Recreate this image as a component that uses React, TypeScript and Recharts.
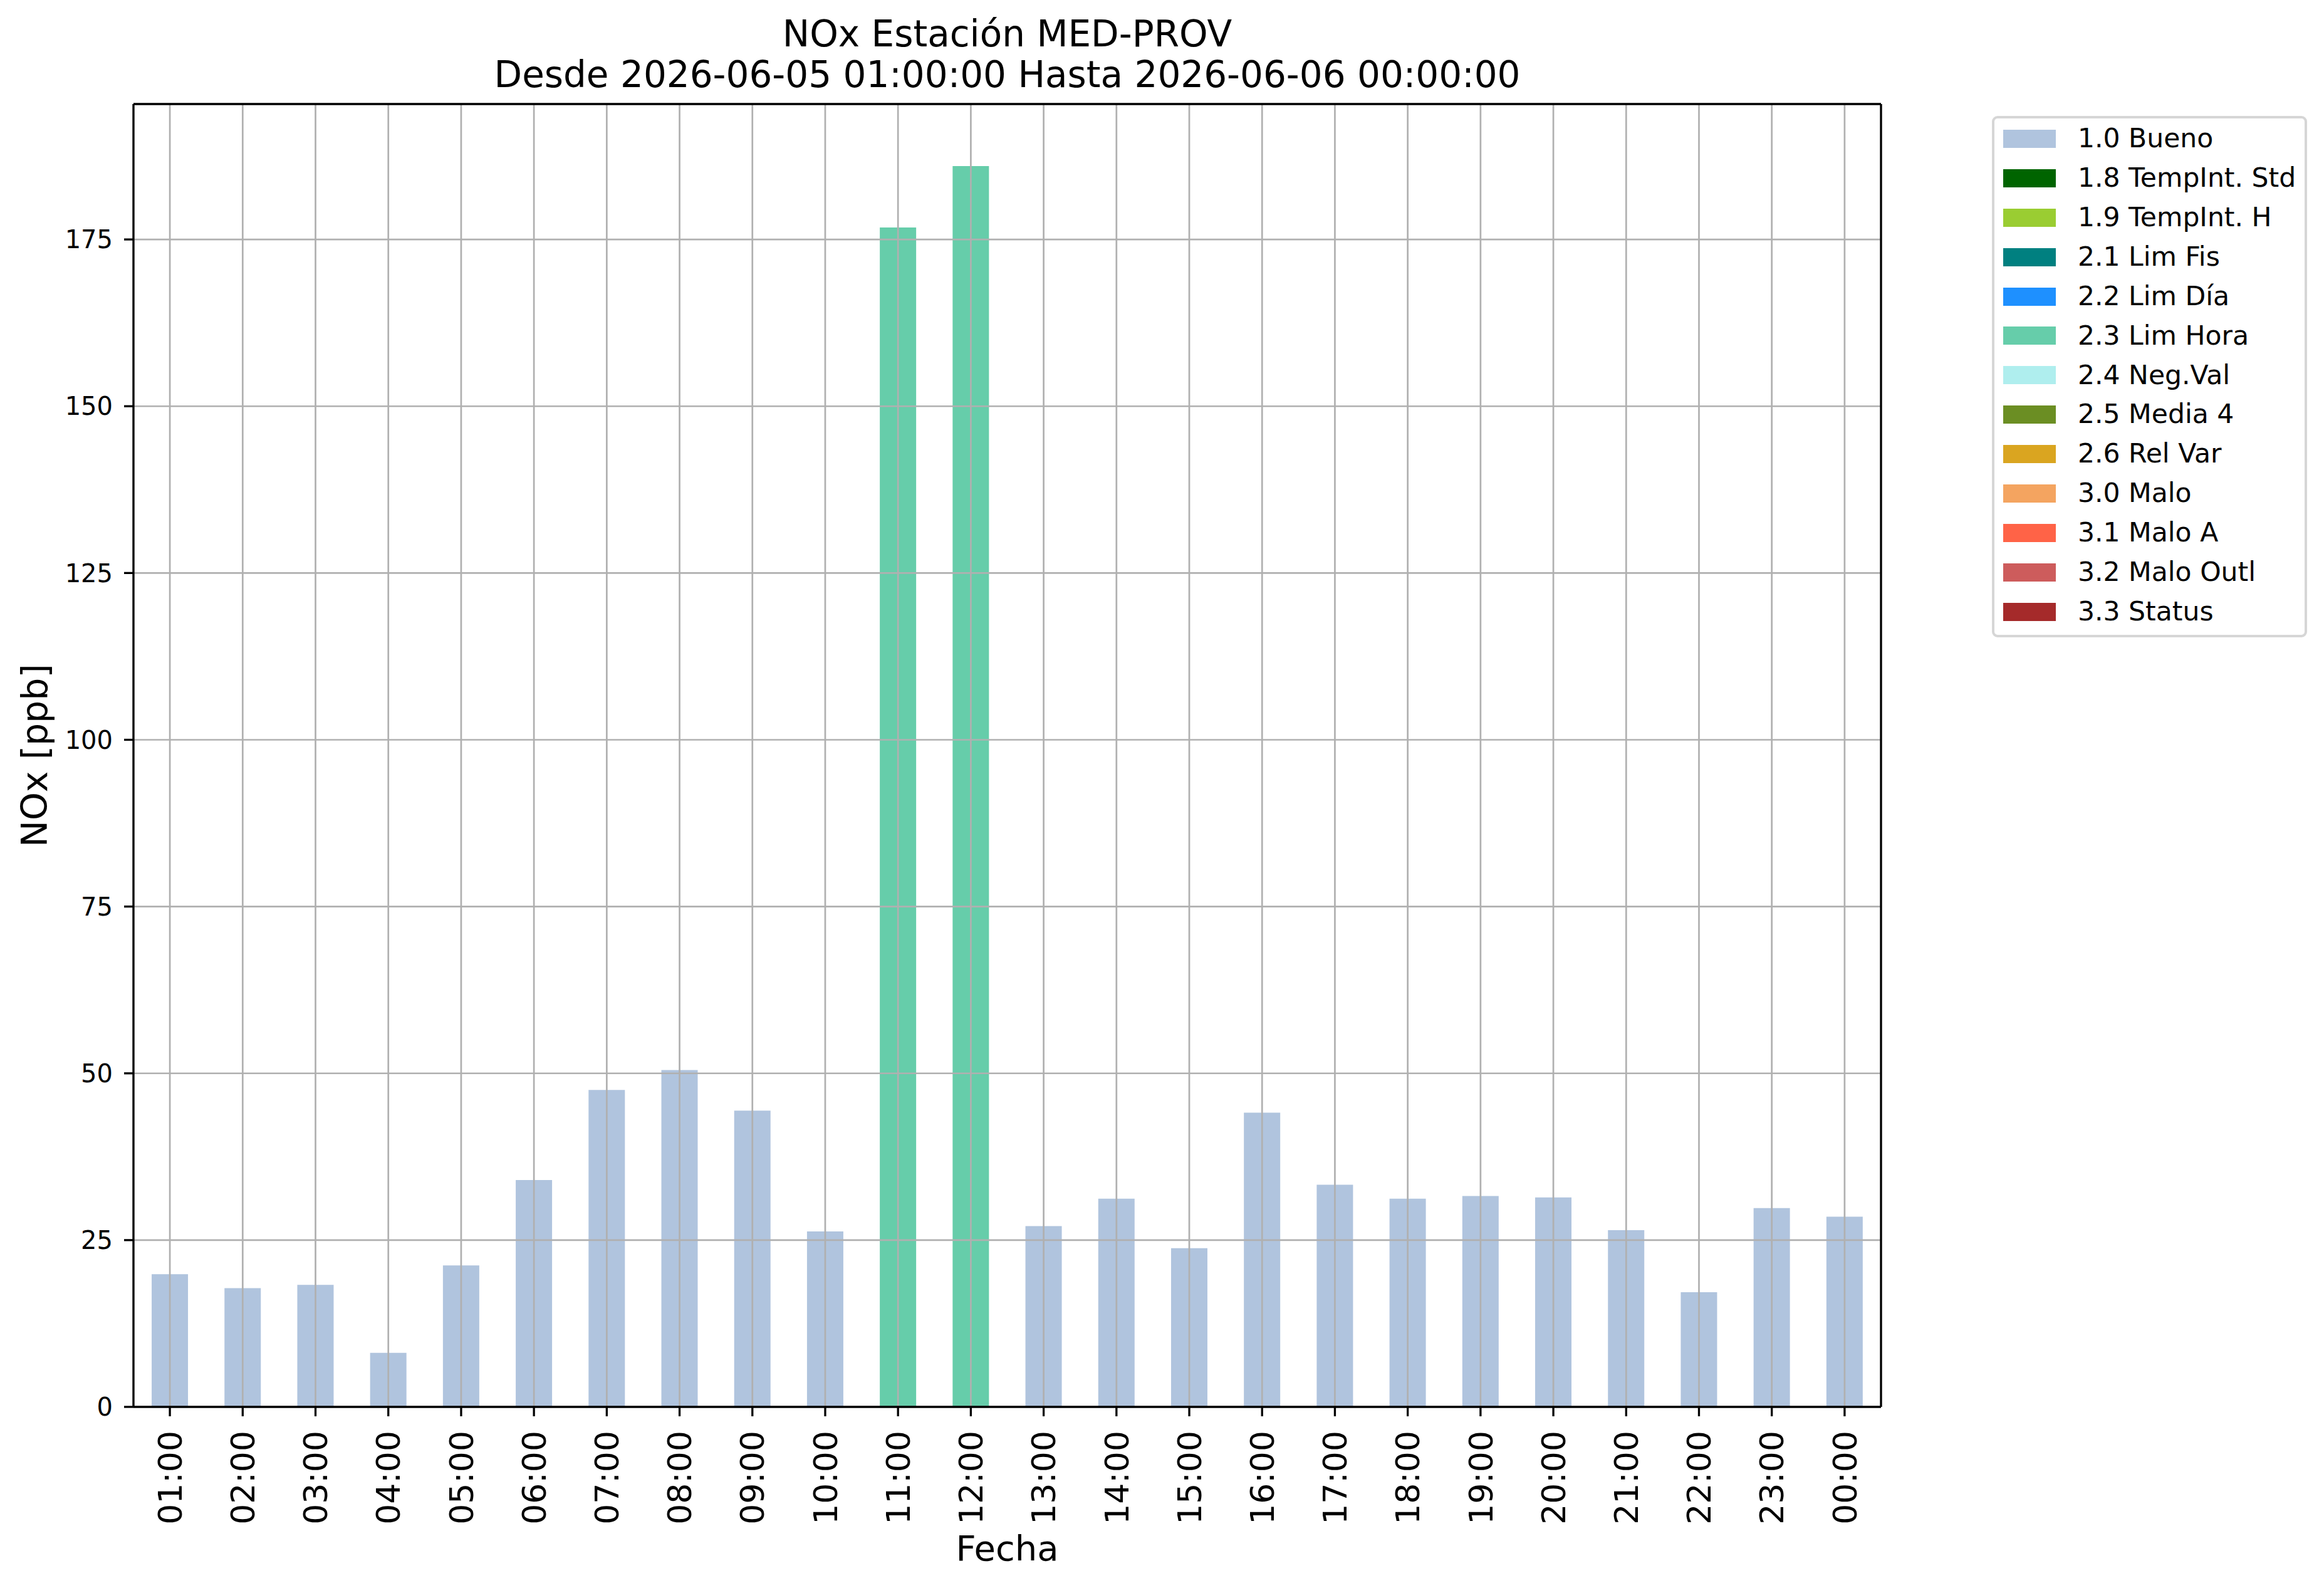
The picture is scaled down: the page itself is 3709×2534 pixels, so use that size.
import React from "react";
import { BarChart, Bar, XAxis, YAxis, CartesianGrid, Legend, Label, ReferenceLine } from "recharts";

const FONT = "'DejaVu Sans', sans-serif";

const hours = [
  "01:00", "02:00", "03:00", "04:00", "05:00", "06:00", "07:00", "08:00",
  "09:00", "10:00", "11:00", "12:00", "13:00", "14:00", "15:00", "16:00",
  "17:00", "18:00", "19:00", "20:00", "21:00", "22:00", "23:00", "00:00",
];

const noxValues = [
  19.9, 17.8, 18.3, 8.1, 21.2, 34.0, 47.5, 50.5, 44.4, 26.3, 176.8, 186.0,
  27.1, 31.2, 23.8, 44.1, 33.3, 31.2, 31.6, 31.4, 26.5, 17.2, 29.8, 28.5,
];

// validation flag of each hour (index into flagNames)
const hourFlags = [0, 0, 0, 0, 0, 0, 0, 0, 0, 0, 5, 5, 0, 0, 0, 0, 0, 0, 0, 0, 0, 0, 0, 0];

const flagNames = [
  "1.0 Bueno", "1.8 TempInt. Std", "1.9 TempInt. H", "2.1 Lim Fis", "2.2 Lim Día",
  "2.3 Lim Hora", "2.4 Neg.Val", "2.5 Media 4", "2.6 Rel Var", "3.0 Malo",
  "3.1 Malo A", "3.2 Malo Outl", "3.3 Status",
];

const flagColors = [
  "#b0c4de", "#006400", "#9acd32", "#008080", "#1e90ff", "#66cdaa", "#afeeee",
  "#6b8e23", "#daa520", "#f4a460", "#ff6347", "#cd5c5c", "#a52a2a",
];

const yTicks = [0, 25, 50, 75, 100, 125, 150, 175];

const data = hours.map((hour, i) => {
  const row: Record<string, any> = { hour };
  flagNames.forEach((_, k) => {
    row[`flag${k}`] = hourFlags[i] === k ? noxValues[i] : null;
  });
  return row;
});

// same 5% headroom matplotlib adds above the tallest bar
const yMax = Math.max(...noxValues) * 1.05;

const HourTick = (props: any) => {
  const { x, y, payload } = props;
  return (
    <text
      x={x}
      y={y}
      dy="0.36em"
      transform={`rotate(-90, ${x}, ${y})`}
      textAnchor="end"
      fontSize={52}
      fontFamily={FONT}
      fill="#000"
    >
      {payload.value}
    </text>
  );
};

const LegendBox = (props: any) => {
  const { payload = [] } = props;
  return (
    <div
      style={{
        boxSizing: "border-box",
        width: "100%",
        height: "100%",
        border: "4px solid #d6d6d6",
        borderRadius: 9,
        background: "#fff",
        padding: "1px 0 0 14px",
        fontFamily: FONT,
      }}
    >
      {payload.map((entry: any) => (
        <div key={entry.value} style={{ display: "flex", alignItems: "center", height: 62.9 }}>
          <span style={{ display: "inline-block", width: 84, height: 29, background: entry.color }} />
          <span style={{ marginLeft: 35, fontSize: 42.5, lineHeight: 1, color: "#000", whiteSpace: "nowrap" }}>
            {entry.value}
          </span>
        </div>
      ))}
    </div>
  );
};

const YTitle = (props: any) => {
  const { viewBox } = props;
  const cy = viewBox.y + viewBox.height / 2;
  return (
    <text x={75} y={cy} transform={`rotate(-90, 75, ${cy})`} textAnchor="middle" fontSize={57} fontFamily={FONT} fill="#000">
      NOx [ppb]
    </text>
  );
};

export default function App() {
  return (
    <div style={{ position: "relative", width: 3709, height: 2534, background: "#fff", fontFamily: FONT }}>
      <style>{"body{margin:0}"}</style>
      <div
        style={{
          position: "absolute",
          left: 213,
          top: 22,
          width: 2789,
          textAlign: "center",
          fontSize: 58,
          lineHeight: "65px",
          color: "#000",
          zIndex: 2,
        }}
      >
        <div>NOx Estación MED-PROV</div>
        <div>Desde 2026-06-05 01:00:00 Hasta 2026-06-06 00:00:00</div>
      </div>
      <BarChart
        width={3709}
        height={2534}
        data={data}
        margin={{ top: 166, right: 707, bottom: 39, left: 53 }}
        barCategoryGap="25%"
      >
        {flagNames.map((name, k) => (
          <Bar
            key={name}
            dataKey={`flag${k}`}
            name={name}
            stackId="flags"
            fill={flagColors[k]}
            isAnimationActive={false}
          />
        ))}
        <CartesianGrid stroke="#b0b0b0" strokeWidth={2.7} zIndex={350} />
        {/* top and right spines of the axes box */}
        <ReferenceLine y={yMax} stroke="#000" strokeWidth={3.3} ifOverflow="visible" />
        <ReferenceLine
          x={hours[hours.length - 1]}
          position="end"
          stroke="#000"
          strokeWidth={3.3}
          ifOverflow="visible"
        />
        <XAxis
          dataKey="hour"
          interval={0}
          height={250}
          tickSize={15}
          tickMargin={23}
          tick={<HourTick />}
          axisLine={{ stroke: "#000", strokeWidth: 3.3 }}
          tickLine={{ stroke: "#000", strokeWidth: 3.3 }}
        >
          <Label value="Fecha" position="insideBottom" offset={5} fontSize={56} fill="#000" fontFamily={FONT} />
        </XAxis>
        <YAxis
          width={160}
          domain={[0, yMax]}
          ticks={yTicks}
          tickSize={15}
          tickMargin={18}
          tick={{ fontSize: 40, fill: "#000", fontFamily: FONT }}
          axisLine={{ stroke: "#000", strokeWidth: 3.3 }}
          tickLine={{ stroke: "#000", strokeWidth: 3.3 }}
        >
          <Label content={<YTitle />} />
        </YAxis>
        <Legend
          layout="vertical"
          align="center"
          verticalAlign="middle"
          content={<LegendBox />}
          wrapperStyle={{ left: 3179, top: 185, width: 503, height: 832 }}
        />
      </BarChart>
    </div>
  );
}
